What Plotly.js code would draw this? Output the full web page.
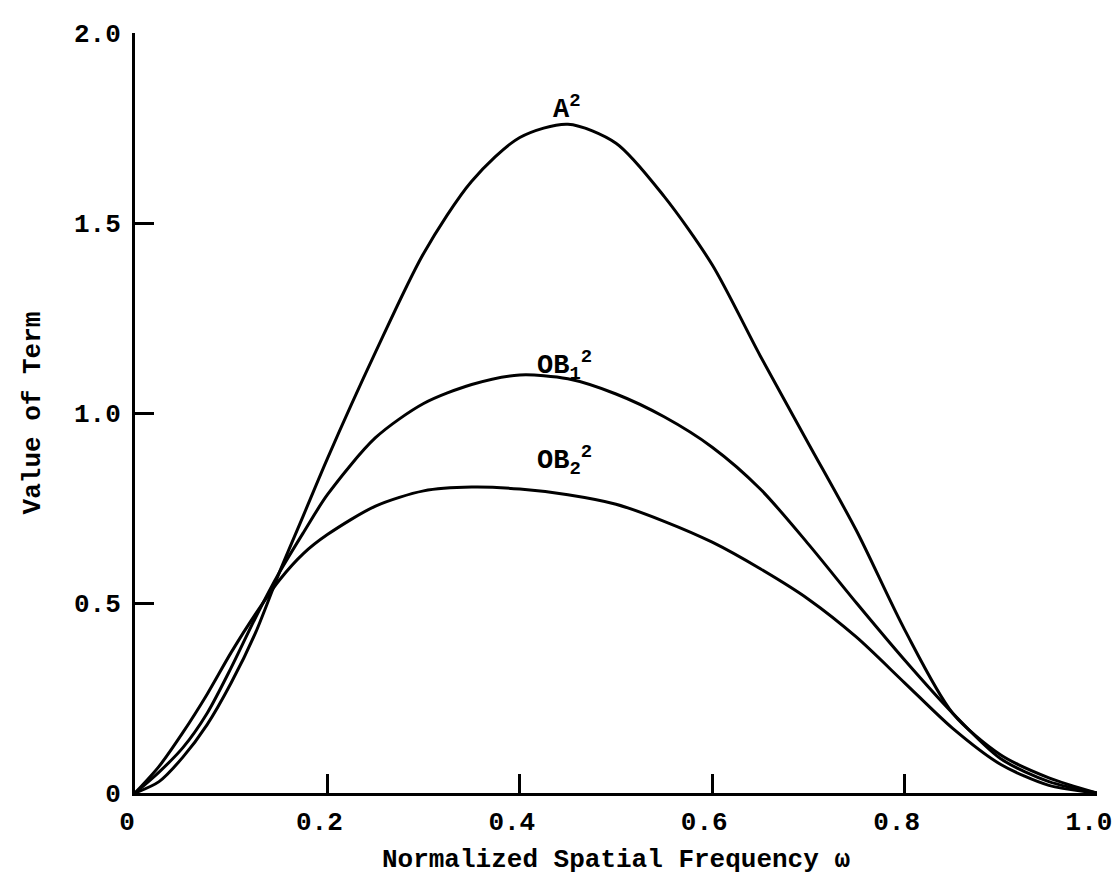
<!DOCTYPE html>
<html>
<head>
<meta charset="utf-8">
<script src="https://cdn.plot.ly/plotly-3.0.1.min.js"></script>
<style>html,body{margin:0;padding:0;background:#fff;}#chart{width:1116px;height:886px;}</style>
</head>
<body>
<div id="chart"></div>
<script>
// Normalized spatial frequency grid
const omega = [0, 0.025, 0.05, 0.075, 0.1, 0.125, 0.15, 0.175, 0.2, 0.25, 0.3, 0.35, 0.4, 0.45, 0.5, 0.55, 0.6, 0.65, 0.7, 0.75, 0.8, 0.85, 0.9, 0.95, 1.0];
// Value of term
const A2  = [0, 0.03, 0.095, 0.18, 0.29, 0.42, 0.58, 0.73, 0.88, 1.16, 1.42, 1.61, 1.725, 1.76, 1.71, 1.57, 1.39, 1.15, 0.92, 0.69, 0.43, 0.21, 0.10, 0.04, 0];
const OB1 = [0, 0.055, 0.12, 0.21, 0.33, 0.46, 0.58, 0.685, 0.785, 0.935, 1.025, 1.075, 1.10, 1.09, 1.05, 0.99, 0.91, 0.80, 0.655, 0.50, 0.35, 0.21, 0.09, 0.03, 0];
const OB2 = [0, 0.07, 0.16, 0.26, 0.37, 0.47, 0.56, 0.63, 0.68, 0.755, 0.795, 0.805, 0.80, 0.785, 0.76, 0.715, 0.66, 0.59, 0.51, 0.41, 0.29, 0.17, 0.075, 0.02, 0];

const xTickVals = [0, 0.2, 0.4, 0.6, 0.8, 1.0];
const xTickText = ["0", "0.2", "0.4", "0.6", "0.8", "1.0"];
const yTickVals = [0, 0.5, 1.0, 1.5, 2.0];
const yTickText = ["0", "0.5", "1.0", "1.5", "2.0"];

const labels = [
  {text: "A<sup>2</sup>", x: 0.432, y: 1.805},
  {text: "OB<sub>1</sub><sup>2</sup>", x: 0.416, y: 1.126},
  {text: "OB<sub>2</sub><sup>2</sup>", x: 0.416, y: 0.876}
];

const FONT = "Liberation Mono, DejaVu Sans Mono, monospace";
const lineStyle = {color: "#000", width: 3, shape: "spline", smoothing: 0.8};

const traces = [A2, OB1, OB2].map(function (ys) {
  return {x: omega, y: ys, type: "scatter", mode: "lines", line: lineStyle, hoverinfo: "skip", showlegend: false};
});

const layout = {
  width: 1116, height: 886,
  margin: {l: 135, r: 19, t: 33, b: 93},
  paper_bgcolor: "#fff", plot_bgcolor: "#fff",
  font: {family: FONT, color: "#000", size: 26},
  showlegend: false,
  xaxis: {
    range: [0, 1], showgrid: false, zeroline: false,
    showline: true, linecolor: "#000", linewidth: 3,
    ticks: "inside", ticklen: 19, tickwidth: 3, tickcolor: "#000",
    tickvals: xTickVals, ticktext: xTickText,
    tickfont: {family: FONT, size: 26, color: "#000", weight: "bold"},
    ticklabelstandoff: 3,
    ticklabelshift: -8,
    ticklabeloverflow: "allow",
    title: {text: "Normalized Spatial Frequency \u03c9", font: {family: FONT, size: 26, color: "#000", weight: "bold"}, standoff: 12},
    automargin: false
  },
  yaxis: {
    range: [0, 2], showgrid: false, zeroline: false,
    showline: true, linecolor: "#000", linewidth: 3,
    ticks: "inside", ticklen: 19, tickwidth: 3, tickcolor: "#000",
    tickvals: yTickVals, ticktext: yTickText,
    tickfont: {family: FONT, size: 26, color: "#000", weight: "bold"},
    ticklabelstandoff: 6,
    ticklabeloverflow: "allow",
    title: {text: "Value of Term", font: {family: FONT, size: 26, color: "#000", weight: "bold"}, standoff: 26},
    automargin: false
  },
  annotations: labels.map(function (l) {
    return {text: l.text, x: l.x, y: l.y, xref: "x", yref: "y", xanchor: "left", yanchor: "middle",
            showarrow: false, font: {family: FONT, size: 27, color: "#000", weight: "bold"}};
  })
};

Plotly.newPlot("chart", traces, layout, {staticPlot: true, displayModeBar: false});
</script>
</body>
</html>
